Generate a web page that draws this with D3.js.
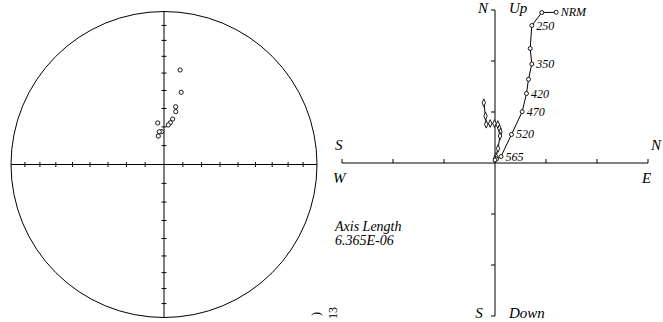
<!DOCTYPE html>
<html>
<head>
<meta charset="utf-8">
<script src="https://cdn.jsdelivr.net/npm/d3@7"></script>
<style>
  html, body { margin: 0; padding: 0; background: #fff; }
  svg { display: block; }
  text { font-family: "Liberation Serif", "DejaVu Serif", serif; font-style: italic; fill: #000; }
</style>
</head>
<body>
<svg id="chart" width="663" height="322"></svg>
<script>
// ---- Equal-area stereonet: directions (declination, inclination in degrees)
const stereoDec = [9.7, 13.4, 11.4, 12.5, 10.8, 8.6, 6.2, 351.4, 356.0, 351.8, 348.7];
const stereoInc = [-37.4, -49.9, -58.4, -61.0, -65.3, -67.5, -68.8, -67.6, -72.5, -72.4, -74.6];
const stereoTickInc = [80, 70, 60, 50, 40, 30, 20, 10];

// ---- Orthogonal vector plot (units of 1e-6)
const axisLength = 6.365;
const stepLabels = ["NRM", "", "250", "", "350", "", "420", "470", "520", "565", "", ""];
const horizE = [2.546, 1.947, 1.531, 1.464, 1.531, 1.393, 1.310, 1.131, 0.686, 0.250, 0.062, 0.000];
const horizN = [6.269, 6.260, 5.720, 4.763, 4.118, 3.482, 2.891, 2.134, 1.186, 0.270, 0.166, 0.125];
const vertN  = [-0.466, -0.395, -0.366, -0.200, -0.021, 0.116, 0.187, 0.229, 0.208, 0.125, 0.042, 0.000];
const vertUp = [2.508, 1.955, 1.610, 1.643, 1.643, 1.601, 1.435, 1.290, 1.123, 0.603, 0.270, 0.166];
const axisTicks = [-2, -1, 1, 2].map(k => k * axisLength / 3);

const svg = d3.select("#chart");

// ================= Stereonet =================
const sc = { x: 164, y: 164.5, r: 153 };
const radial = d3.scaleLinear().domain([0, 1]).range([0, sc.r]);
// Lambert equal-area distance from centre for an inclination
const eqArea = inc => Math.SQRT2 * Math.sin((90 - Math.abs(inc)) / 2 * Math.PI / 180);

const net = svg.append("g").attr("transform", `translate(${sc.x},${sc.y})`);
net.append("circle").attr("r", sc.r).attr("fill", "none").attr("stroke", "#000").attr("stroke-width", 1);
net.append("line").attr("x1", -sc.r).attr("x2", sc.r).attr("y1", 0).attr("y2", 0).attr("stroke", "#000");
net.append("line").attr("y1", -sc.r).attr("y2", sc.r).attr("x1", 0).attr("x2", 0).attr("stroke", "#000");

const tickDist = stereoTickInc.map(i => radial(eqArea(i)));
const netTicks = [];
tickDist.forEach(d => {
  netTicks.push({ x: d, y: 0, h: true }, { x: -d, y: 0, h: true }, { x: 0, y: d, h: false }, { x: 0, y: -d, h: false });
});
net.selectAll("line.tk").data(netTicks).join("line").attr("class", "tk")
  .attr("x1", d => d.h ? d.x : -2.5).attr("x2", d => d.h ? d.x : 2.5)
  .attr("y1", d => d.h ? -2.5 : d.y).attr("y2", d => d.h ? 2.5 : d.y)
  .attr("stroke", "#000");

const dirs = stereoDec.map((dec, i) => {
  const rr = radial(eqArea(stereoInc[i]));
  const a = dec * Math.PI / 180;
  return { x: rr * Math.sin(a), y: -rr * Math.cos(a), up: stereoInc[i] < 0 };
});
net.selectAll("circle.pt").data(dirs).join("circle").attr("class", "pt")
  .attr("cx", d => d.x).attr("cy", d => d.y).attr("r", 2.1)
  .attr("fill", d => d.up ? "#fff" : "#000").attr("stroke", "#000").attr("stroke-width", 0.9);

// ================= Orthogonal plot =================
const ox = d3.scaleLinear().domain([-axisLength, axisLength]).range([342, 648]);
const oy = d3.scaleLinear().domain([-axisLength, axisLength]).range([316, 10]);
const g = svg.append("g");
const x0 = ox(0), y0 = oy(0);

// axes
g.append("line").attr("x1", ox(-axisLength)).attr("x2", ox(axisLength)).attr("y1", y0).attr("y2", y0).attr("stroke", "#000");
g.append("line").attr("x1", x0).attr("x2", x0).attr("y1", oy(axisLength)).attr("y2", oy(-axisLength)).attr("stroke", "#000");
const hTicks = axisTicks.concat([-axisLength, axisLength]);
g.selectAll("line.hx").data(hTicks).join("line").attr("class", "hx")
  .attr("x1", d => ox(d)).attr("x2", d => ox(d)).attr("y1", y0).attr("y2", y0 - 4).attr("stroke", "#000");
g.selectAll("line.vy").data(hTicks).join("line").attr("class", "vy")
  .attr("y1", d => oy(d)).attr("y2", d => oy(d)).attr("x1", x0).attr("x2", x0 - 4).attr("stroke", "#000");

// vertical-plane projection (diamonds)
const vertPts = vertN.map((n, i) => ({ x: ox(n), y: oy(vertUp[i]) }));
g.append("path").datum(vertPts)
  .attr("d", d3.line().x(d => d.x).y(d => d.y))
  .attr("fill", "none").attr("stroke", "#000").attr("stroke-width", 1);
g.selectAll("path.dm").data(vertPts).join("path").attr("class", "dm")
  .attr("d", d3.symbol(d3.symbolDiamond, 14))
  .attr("transform", d => `translate(${d.x},${d.y}) scale(0.85,1.1)`)
  .attr("fill", "#fff").attr("stroke", "#000").attr("stroke-width", 0.9);

// horizontal-plane projection (circles)
const horizPts = horizE.map((e, i) => ({ x: ox(e), y: oy(horizN[i]), label: stepLabels[i] }));
g.append("path").datum(horizPts)
  .attr("d", d3.line().x(d => d.x).y(d => d.y))
  .attr("fill", "none").attr("stroke", "#000").attr("stroke-width", 1);
g.selectAll("circle.hp").data(horizPts).join("circle").attr("class", "hp")
  .attr("cx", d => d.x).attr("cy", d => d.y).attr("r", 2)
  .attr("fill", "#fff").attr("stroke", "#000").attr("stroke-width", 0.9);
g.selectAll("text.step").data(horizPts.filter(d => d.label)).join("text").attr("class", "step")
  .attr("x", d => d.x + 4.5).attr("y", d => d.y + 4)
  .attr("font-size", 12).text(d => d.label);

// axis direction labels
const lab = (x, y, t, size, anchor) =>
  g.append("text").attr("x", x).attr("y", y).attr("font-size", size).attr("text-anchor", anchor || "start").text(t);
lab(x0 - 12, 13, "N", 15, "middle");
lab(x0 + 14, 13, "Up", 15);
lab(335, 150, "S", 15);
lab(651, 150, "N", 15);
lab(333, 183, "W", 15);
lab(642, 183, "E", 15);
lab(x0 - 16, 318, "S", 15, "middle");
lab(x0 + 14, 318, "Down", 15);

lab(335, 231, "Axis Length", 14);
lab(335, 245, "6.365E-06", 14);

// rotated margin annotation
svg.append("text").attr("transform", "translate(337,319) rotate(-90)")
  .attr("font-size", 12).style("font-style", "normal").text("13");
svg.append("text").attr("transform", "translate(320,316) rotate(-90)")
  .attr("font-size", 12).style("font-style", "normal").text(")");
</script>
</body>
</html>
